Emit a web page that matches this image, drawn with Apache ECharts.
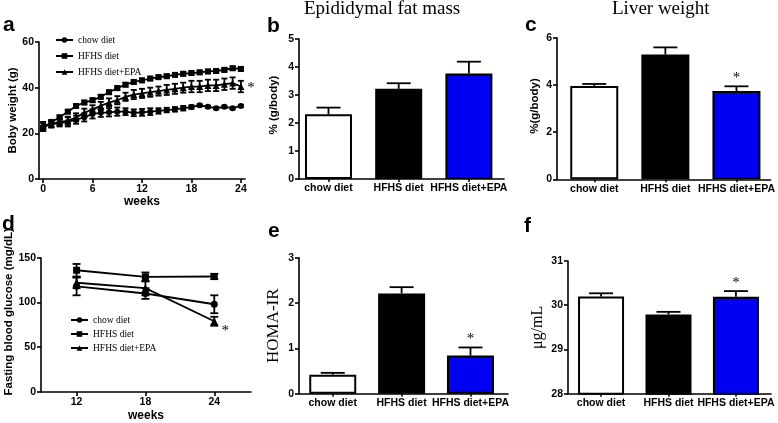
<!DOCTYPE html>
<html><head><meta charset="utf-8">
<script src="https://cdn.jsdelivr.net/npm/echarts@6/dist/echarts.min.js"></script>
<style>html,body{margin:0;padding:0;background:#fff}#c{width:778px;height:423px}</style>
</head><body><div id="c"></div>
<script>
// ---------- DATA ----------
const groups = ['chow diet', 'HFHS diet', 'HFHS diet+EPA'];

// panel a: body weight (g) by week
const weeksA = [0,1,2,3,4,5,6,7,8,9,10,11,12,13,14,15,16,17,18,19,20,21,22,23,24];
const chowA  = [23,24,24.5,25,26,27,28.5,29,29.2,29.5,29.5,29,29.2,29.5,29.8,30.2,30.5,31,31.5,32.3,31.6,31,31.6,31,32];
const chowAErr = [1.5,1.2,1.5,2,1.8,1.8,2,1.8,1.8,1.8,1.5,1.5,1.5,1.5,1.2,1,1,1,0.8,0.5,0.5,0.5,0.5,0.5,0.5];
const hfhsA  = [22,25,27,29.5,32,33.5,34.5,36,38,39.8,41.3,42.5,43.2,44,44.6,45,45.6,46.1,46.4,46.7,47.1,47.3,47.8,48.5,48.2];
const hfhsAErr = [1,0.8,0.8,0.8,0.8,0.8,0.8,0.8,0.8,0.8,0.8,0.8,0.8,0.8,0.8,0.8,0.8,0.8,0.8,0.8,0.8,0.8,0.8,0.8,0.8];
const epaA   = [23.5,24,25,25.5,27,29,30.5,32,33.5,34.5,36,37,37.5,38,38.5,39,39.5,40,40.5,40.5,41,41,41.5,42,40.5];
const epaAErr = [1.5,1.5,1.5,1.8,1.8,1.8,1.8,1.8,1.8,1.8,1.8,2,2,2,2,2.2,2.2,2.2,2.5,2.5,2.5,2.5,2.5,2.5,2.5];

// panel d: fasting blood glucose (mg/dL)
const weeksD = [12, 18, 24];
const chowD = [118, 110, 98];
const chowDErr = [10, 6, 10];
const hfhsD = [136, 128.5, 129];
const hfhsDErr = [7, 5, 3];
const epaD = [122, 116, 79];
const epaDErr = [6, 8, 5];

// bar panels
const fatMass = [2.31, 3.22, 3.77];   const fatMassErr = [0.24, 0.2, 0.42];
const liver   = [3.95, 5.29, 3.74];   const liverErr   = [0.09, 0.3, 0.2];
const homa    = [0.42, 2.21, 0.84];   const homaErr    = [0.04, 0.14, 0.18];
const serum   = [30.2, 29.79, 30.19]; const serumErr   = [0.07, 0.06, 0.13];

// ---------- STYLE ----------
const SANS = '"Liberation Sans", Arial, sans-serif';
const SERIF = '"Liberation Serif", "Times New Roman", serif';
const barColors = ['#ffffff', '#000000', '#0000f2'];
const axisLine = {show: true, onZero: false, lineStyle: {color: '#000', width: 1.6}};
const axisTick = {show: true, length: 4, lineStyle: {color: '#000', width: 1.6}};
const tickLbl = {color: '#000', fontFamily: SANS, fontWeight: 'bold', fontSize: 10.5};

const grids = [
  {left: 39, top: 42, width: 206, height: 137},      // a
  {left: 299, top: 39, width: 205, height: 140},     // b
  {left: 557, top: 37.7, width: 215, height: 141.6}, // c
  {left: 41, top: 257.7, width: 210, height: 135},   // d
  {left: 299, top: 257.7, width: 209, height: 136},  // e
  {left: 568, top: 261, width: 203, height: 132.7}   // f
];

function yAx(gi, min, max, interval, name, nameStyle, gap, pad) {
  return {type: 'value', gridIndex: gi, min, max, interval,
    axisLine, axisTick, splitLine: {show: false},
    axisLabel: Object.assign({margin: 5}, tickLbl),
    name, nameLocation: 'middle', nameGap: gap,
    nameTextStyle: Object.assign({color: '#000', padding: [0, 0, 0, pad || 0]}, nameStyle)};
}
function xBarAx(gi, min, max) {
  return {type: 'value', gridIndex: gi, min, max,
    axisLine, splitLine: {show: false},
    axisTick: {show: true, length: 3, lineStyle: {color: '#000', width: 1.5}, customValues: [0, 1, 2]},
    axisLabel: Object.assign({margin: 4, customValues: [0, 1, 2], formatter: v => groups[Math.round(v)]}, tickLbl)};
}
function xWeekAx(gi, min, max, ticks, gap) {
  return {type: 'value', gridIndex: gi, min, max,
    axisLine, splitLine: {show: false},
    axisTick: {show: true, length: 4, lineStyle: {color: '#000', width: 1.6}, customValues: ticks},
    axisLabel: Object.assign({margin: 5, customValues: ticks}, tickLbl),
    name: 'weeks', nameLocation: 'middle', nameGap: gap,
    nameTextStyle: {color: '#000', fontFamily: SANS, fontWeight: 'bold', fontSize: 12}};
}

function errSeries(gi, xs, ys, es, both, capW, star) {
  return {type: 'custom', xAxisIndex: gi, yAxisIndex: gi, z: 5, silent: true,
    data: xs.map((x, i) => [x, ys[i], es[i]]),
    renderItem: (params, api) => {
      const x = api.value(0), y = api.value(1), e = api.value(2);
      const p0 = api.coord([x, both ? y - e : y]);
      const p1 = api.coord([x, y + e]);
      const pc = api.coord([x, y]);
      const st = {stroke: '#000', lineWidth: 1.8};
      const ch = [
        {type: 'line', shape: {x1: p0[0], y1: p0[1], x2: p1[0], y2: p1[1]}, style: st},
        {type: 'line', shape: {x1: p1[0] - capW / 2, y1: p1[1], x2: p1[0] + capW / 2, y2: p1[1]}, style: st}
      ];
      if (both) ch.push({type: 'line', shape: {x1: p0[0] - capW / 2, y1: p0[1], x2: p0[0] + capW / 2, y2: p0[1]}, style: st});
      if (star && params.dataIndex === star.index) {
        let tx, ty;
        if (star.mode === 'above') { tx = p1[0]; ty = p1[1] - 8; }
        else { tx = pc[0] + star.dx; ty = pc[1] + star.dy; }
        ch.push({type: 'text', style: {text: '*', x: tx, y: ty, align: 'center', verticalAlign: 'middle',
          font: '15px ' + SERIF, fill: '#000'}});
      }
      return {type: 'group', children: ch};
    }};
}
function lineSeries(gi, name, xs, ys, symbol, size) {
  return {type: 'line', name, xAxisIndex: gi, yAxisIndex: gi, z: 4,
    data: xs.map((x, i) => [x, ys[i]]),
    symbol, symbolSize: size, showSymbol: true,
    lineStyle: {color: '#000', width: 1.8}, itemStyle: {color: '#000'}};
}
function barSeries(gi, vals, w) {
  return {type: 'bar', xAxisIndex: gi, yAxisIndex: gi, barWidth: w, z: 3,
    data: vals.map((v, i) => ({value: [i, v], itemStyle: {color: barColors[i], borderColor: '#000', borderWidth: 2}}))};
}

const sansName = {fontFamily: SANS, fontWeight: 'bold', fontSize: 11.5};
const option = {
  animation: false,
  backgroundColor: '#fff',
  grid: grids,
  xAxis: [
    xWeekAx(0, -0.5, 24.5, [0, 6, 12, 18, 24], 16),
    xBarAx(1, -0.42, 2.5),
    xBarAx(2, -0.524, 2.48),
    xWeekAx(3, 8.9, 27.2, [12, 18, 24], 18),
    xBarAx(4, -0.49, 2.545),
    xBarAx(5, -0.49, 2.52)
  ],
  yAxis: [
    yAx(0, 0, 60, 20, 'Boby weight (g)', sansName, 20, 0),
    yAx(1, 0, 5, 1, '% (g/body)', sansName, 19, 8),
    yAx(2, 0, 6, 2, '%(g/body)', sansName, 16, 5),
    yAx(3, 0, 150, 50, 'Fasting blood glucose (mg/dL)', sansName, 20, 26),
    yAx(4, 0, 3, 1, 'HOMA-IR', {fontFamily: SERIF, fontSize: 17}, 17, 0),
    yAx(5, 28, 31, 1, 'μg/mL', {fontFamily: SERIF, fontSize: 16}, 22, 0)
  ],
  legend: [
    {left: 50, top: 30, orient: 'vertical', itemWidth: 17, itemHeight: 7, itemGap: 6, selectedMode: false,
      data: groups, textStyle: {fontFamily: SERIF, fontSize: 9.5, color: '#000'}},
    {left: 65, top: 310, orient: 'vertical', itemWidth: 17, itemHeight: 7, itemGap: 4, selectedMode: false,
      data: groups, textStyle: {fontFamily: SERIF, fontSize: 9.5, color: '#000'}}
  ],
  graphic: [
    ['a', 3, 32], ['b', 267, 33], ['c', 525, 32], ['d', 2, 231], ['e', 268, 238], ['f', 524, 233]
  ].map(([t, x, y]) => ({type: 'text', left: x, top: y - 17,
      style: {text: t, font: 'bold 21px ' + SANS, fill: '#000'}})).concat([
    {type: 'text', top: 0, left: 304, style: {text: 'Epididymal fat mass', font: '19px ' + SERIF, fill: '#000'}},
    {type: 'text', top: 0, left: 612, style: {text: 'Liver weight', font: '19px ' + SERIF, fill: '#000'}}
  ]),
  series: [
    lineSeries(0, 'chow diet', weeksA, chowA, 'circle', 6),
    lineSeries(0, 'HFHS diet', weeksA, hfhsA, 'rect', 6),
    lineSeries(0, 'HFHS diet+EPA', weeksA, epaA, 'triangle', 7),
    errSeries(0, weeksA, chowA, chowAErr, true, 6),
    errSeries(0, weeksA, hfhsA, hfhsAErr, true, 6),
    errSeries(0, weeksA, epaA, epaAErr, true, 6, {index: 24, mode: 'right', dx: 10, dy: 2}),

    lineSeries(3, 'chow diet', weeksD, chowD, 'circle', 7),
    lineSeries(3, 'HFHS diet', weeksD, hfhsD, 'rect', 7),
    lineSeries(3, 'HFHS diet+EPA', weeksD, epaD, 'triangle', 8),
    errSeries(3, weeksD, chowD, chowDErr, true, 8),
    errSeries(3, weeksD, hfhsD, hfhsDErr, true, 8),
    errSeries(3, weeksD, epaD, epaDErr, true, 8, {index: 2, mode: 'right', dx: 11, dy: 10}),

    barSeries(1, fatMass, 47), errSeries(1, [0, 1, 2], fatMass, fatMassErr, false, 24),
    barSeries(2, liver, 48),   errSeries(2, [0, 1, 2], liver, liverErr, false, 24, {index: 2, mode: 'above'}),
    barSeries(4, homa, 47),    errSeries(4, [0, 1, 2], homa, homaErr, false, 24, {index: 2, mode: 'above'}),
    barSeries(5, serum, 46),   errSeries(5, [0, 1, 2], serum, serumErr, false, 24, {index: 2, mode: 'above'})
  ]
};
const chart = echarts.init(document.getElementById('c'), null, {renderer: 'canvas'});
chart.setOption(option);
</script></body></html>
